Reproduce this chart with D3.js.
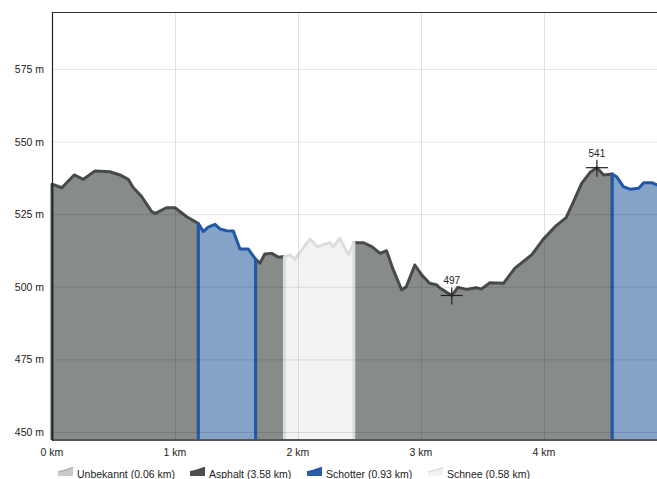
<!DOCTYPE html>
<html>
<head>
<meta charset="utf-8">
<script src="https://cdn.jsdelivr.net/npm/d3@7"></script>
<style>
  html, body { margin: 0; padding: 0; background: #fff; overflow: hidden; }
  svg { display: block; font-family: "Liberation Sans", Arial, sans-serif; }
</style>
</head>
<body>
<svg id="chart" width="657" height="479"></svg>
<script>
// profile: distance (km) and elevation (m)
const dist = [0.00, 0.08, 0.18, 0.255, 0.35, 0.47, 0.553, 0.62, 0.66, 0.73, 0.81, 0.84, 0.93, 1.00, 1.095,
  1.19, 1.23, 1.27, 1.325, 1.366, 1.42, 1.474, 1.528, 1.596, 1.655, 1.69, 1.73, 1.786, 1.84, 1.89,
  1.935, 1.976, 2.03, 2.098, 2.157, 2.26, 2.287, 2.34, 2.382, 2.41, 2.455, 2.53, 2.60, 2.667, 2.72,
  2.775, 2.843, 2.88, 2.95, 3.005, 3.07, 3.13, 3.155, 3.195, 3.25, 3.30, 3.37, 3.45, 3.49, 3.56,
  3.67, 3.764, 3.90, 3.995, 4.09, 4.18, 4.24, 4.306, 4.375, 4.43, 4.485, 4.555, 4.59, 4.645, 4.70,
  4.77, 4.81, 4.88, 4.95, 5.02, 5.08]
const elev = [535.3, 534.1, 538.5, 537.0, 539.9, 539.6, 538.5, 537.0, 534.2, 531.0, 525.9, 525.3, 527.2, 527.2, 524.1,
  521.8, 519.0, 520.5, 521.5, 519.9, 519.3, 519.2, 513.0, 513.0, 509.5, 508.1, 511.3, 511.5, 510.2, 510.4,
  511.0, 509.5, 512.7, 516.4, 513.8, 515.2, 513.8, 516.7, 513.3, 511.0, 515.2, 515.2, 513.8, 511.5, 512.4,
  505.8, 498.9, 500.0, 507.5, 504.1, 501.2, 500.6, 499.5, 498.5, 497.0, 499.8, 499.1, 499.7, 499.2, 501.4,
  501.2, 506.4, 511.0, 516.4, 520.7, 523.8, 529.3, 535.6, 539.4, 541.0, 538.5, 538.8, 537.9, 534.5, 533.6,
  533.9, 535.8, 535.8, 534.5, 533.5, 533.0]

// surface sections along the route
const segType = ["Asphalt", "Schotter", "Asphalt", "Schnee", "Asphalt", "Schotter", "Unbekannt"]
const segStart = [0, 1.19, 1.655, 1.89, 2.455, 4.555, 5.02]
const segEnd = [1.19, 1.655, 1.89, 2.455, 4.555, 5.02, 5.08]

// legend
const legendNames = ["Unbekannt", "Asphalt", "Schotter", "Schnee"]
const legendKm = ["0.06", "3.58", "0.93", "0.58"]

const yTicks = [450, 475, 500, 525, 550, 575]
const xTicks = [0, 1, 2, 3, 4]

const surface = {
    Asphalt: { fill: "#878c89", stroke: "#474a49" },
    Schotter: { fill: "#85a3c7", stroke: "#2157a9" },
    Schnee: { fill: "#f2f3f2", stroke: "#dcdddc" },
    Unbekannt: { fill: "#c9cbca", stroke: "#b0b2b1" }
}

const plot = { left: 52, top: 12, bottom: 440, pxPerKm: 123 }

const svg = d3.select("#chart")
const x = d3.scaleLinear().domain([0, 5.08]).range([plot.left, plot.left + 5.08 * plot.pxPerKm])
const y = d3.scaleLinear().domain([447.25, 594.6]).range([plot.bottom, plot.top])

const pts = dist.map((d, i) => ({ d: d, e: elev[i] }))

const area = d3.area().x(p => x(p.d)).y0(plot.bottom).y1(p => y(p.e))
const outline = d3.line().x(p => x(p.d)).y(p => p.base ? plot.bottom : y(p.e))

// asphalt first, the other surfaces over it
const order = d3.range(segType.length).sort((a, b) => (segType[a] === "Asphalt" ? 0 : 1) - (segType[b] === "Asphalt" ? 0 : 1))

const gProfile = svg.append("g")
order.forEach(i => {
    let sp = pts.filter(p => p.d >= segStart[i] - 1e-9 && p.d <= segEnd[i] + 1e-9)
    let c = surface[segType[i]]
    gProfile.append("path").datum(sp)
        .attr("d", area)
        .attr("fill", c.fill)
    let ol = [{ d: sp[0].d, base: true }].concat(sp, [{ d: sp[sp.length - 1].d, base: true }])
    gProfile.append("path").datum(ol)
        .attr("d", outline)
        .attr("fill", "none")
        .attr("stroke", c.stroke)
        .attr("stroke-width", 3)
        .attr("stroke-linejoin", "round")
})

// grid on top
const gGrid = svg.append("g")
gGrid.selectAll("line.h").data(yTicks).join("line")
    .attr("x1", plot.left).attr("x2", 657)
    .attr("y1", d => y(d) + 0.5).attr("y2", d => y(d) + 0.5)
    .attr("stroke", "rgba(0,0,0,0.11)")
gGrid.selectAll("line.v").data(xTicks.slice(1)).join("line")
    .attr("x1", d => x(d) + 0.5).attr("x2", d => x(d) + 0.5)
    .attr("y1", plot.top).attr("y2", plot.bottom)
    .attr("stroke", "rgba(0,0,0,0.11)")

// frame
svg.append("line").attr("x1", plot.left).attr("x2", 657).attr("y1", plot.top + 0.5).attr("y2", plot.top + 0.5)
    .attr("stroke", "#333").attr("stroke-width", 1)
svg.append("line").attr("x1", plot.left).attr("x2", 657).attr("y1", plot.bottom).attr("y2", plot.bottom)
    .attr("stroke", "#555").attr("stroke-width", 2)
svg.append("line").attr("x1", plot.left + 0.5).attr("x2", plot.left + 0.5).attr("y1", plot.top).attr("y2", plot.bottom + 1)
    .attr("stroke", "#222").attr("stroke-width", 1.2)

// axis labels
svg.append("g").selectAll("text").data(yTicks).join("text")
    .attr("x", 44).attr("y", d => y(d) + 4)
    .attr("text-anchor", "end")
    .attr("font-size", "10.5px").attr("fill", "#222")
    .text(d => d + " m")
svg.append("g").selectAll("text").data(xTicks).join("text")
    .attr("x", d => x(d)).attr("y", 456)
    .attr("text-anchor", "middle")
    .attr("font-size", "10.5px").attr("fill", "#222")
    .text(d => d + " km")

// min / max markers
const iMin = d3.minIndex(elev), iMax = d3.maxIndex(elev)
;[iMin, iMax].forEach(i => {
    let cx = x(dist[i]), cy = y(elev[i])
    let g = svg.append("g").attr("stroke", "#222").attr("stroke-width", 1.2)
    g.append("line").attr("x1", cx - 11).attr("x2", cx + 11).attr("y1", cy).attr("y2", cy)
    g.append("line").attr("x1", cx).attr("x2", cx).attr("y1", cy - 8).attr("y2", cy + 9)
    svg.append("text").text(Math.round(elev[i]))
        .attr("x", cx).attr("y", cy - 11)
        .attr("text-anchor", "middle")
        .attr("font-size", "10px").attr("fill", "#222")
})

// legend
const legendX = [58, 190, 307, 428]
const icon = "M0,9 L0,5 L6,3.5 L15,0.5 L15,9 Z"
const iconTop = "M0,5 L6,3.5 L15,0.5"
legendNames.forEach((n, i) => {
    let c = surface[n]
    let g = svg.append("g").attr("transform", `translate(${legendX[i]}, 467)`)
    g.append("path").attr("d", icon).attr("fill", n === "Asphalt" ? "#4d504f" : (n === "Schotter" ? "#2a5ea8" : c.fill))
    g.append("path").attr("d", iconTop).attr("fill", "none").attr("stroke", c.stroke).attr("stroke-width", 1.5)
    g.append("text").text(`${n} (${legendKm[i]} km)`)
        .attr("x", 19).attr("y", 10.5)
        .attr("font-size", "10.5px").attr("fill", "#222")
})
</script>
</body>
</html>
